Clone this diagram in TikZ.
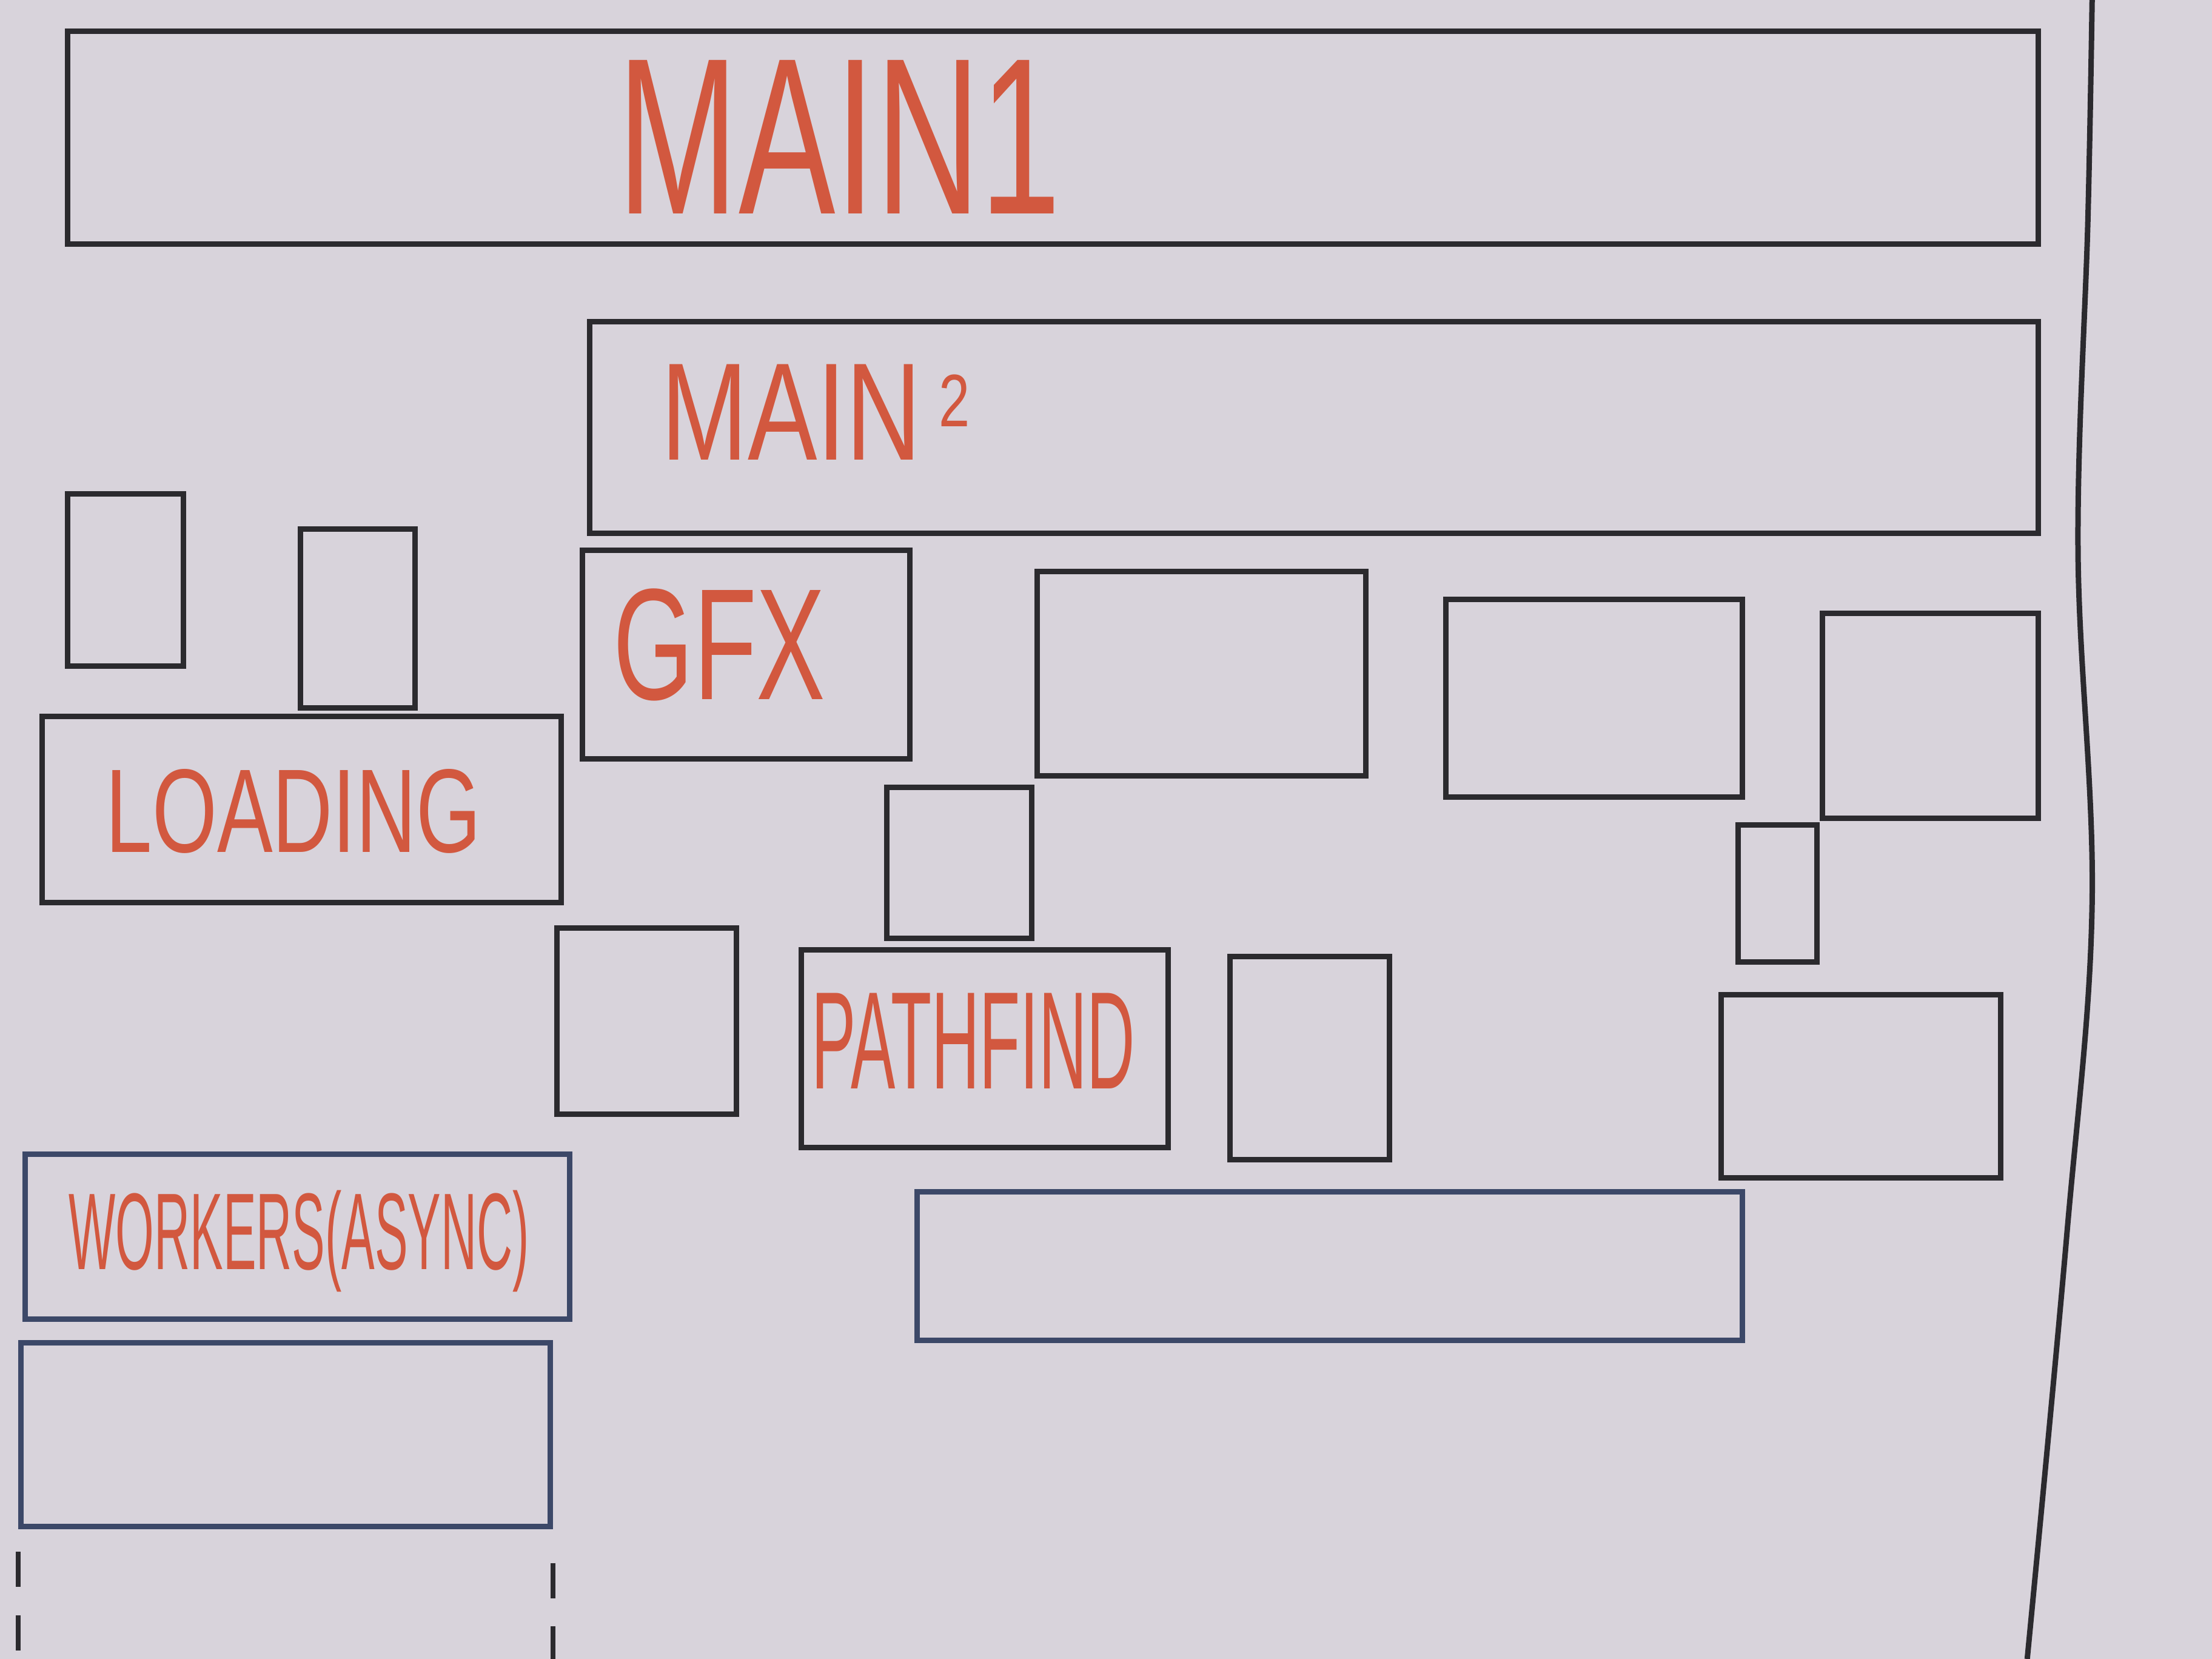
\documentclass[tikz,border=0pt]{standalone}
\usepackage{fontspec}
\newfontfamily\boardfont{Liberation Sans}
\newcommand{\squeeze}[2]{\scalebox{#1}[1]{#2}}
\begin{document}
\begin{tikzpicture}[font=\boardfont,
  boardbox/.style={draw=markerblack,line width=1.1pt,inner sep=0pt},
  workbox/.style={draw=markerblue,line width=1.1pt,inner sep=0pt},
  boardlabel/.style={text=markerred,inner sep=0pt}]
\definecolor{boardgrey}{HTML}{D8D3DB}
\definecolor{markerblack}{HTML}{2B2A2E}
\definecolor{markerblue}{HTML}{3C4868}
\definecolor{markerred}{HTML}{D2583F}
\fill[boardgrey] (0,0) rectangle (15.68,11.76);
\useasboundingbox (0,0) rectangle (15.68,11.76);
% main threads
\node[boardbox,minimum width=13.97cm,minimum height=1.51cm] (main1) at (7.465,10.785) {};
\node[boardbox,minimum width=10.27cm,minimum height=1.50cm] (main2) at (9.315,8.73) {};
\node[boardlabel,font=\boardfont\fontsize{45}{45}\selectfont] (main1label) at (5.95,10.79) {\squeeze{0.65}{MAIN1}};
\node[boardlabel,font=\boardfont\fontsize{28}{28}\selectfont] (main2label) at (5.78,8.84) {\squeeze{0.75}{MAIN\,\raisebox{0.45ex}{\fontsize{15}{15}\selectfont 2}}};
% subsystem boxes
\node[boardbox,minimum width=0.82cm,minimum height=1.22cm] (boxa) at (0.89,7.65) {};
\node[boardbox,minimum width=0.81cm,minimum height=1.27cm] (boxb) at (2.535,7.375) {};
\node[boardbox,minimum width=2.32cm,minimum height=1.48cm] (gfx) at (5.29,7.12) {};
\node[boardbox,minimum width=2.33cm,minimum height=1.45cm] (boxc) at (8.515,6.985) {};
\node[boardbox,minimum width=2.10cm,minimum height=1.40cm] (boxd) at (11.30,6.81) {};
\node[boardbox,minimum width=1.53cm,minimum height=1.45cm] (boxe) at (13.685,6.685) {};
\node[boardbox,minimum width=3.68cm,minimum height=1.32cm] (loading) at (2.14,6.02) {};
\node[boardbox,minimum width=1.03cm,minimum height=1.07cm] (boxf) at (6.80,5.645) {};
\node[boardbox,minimum width=0.56cm,minimum height=0.97cm] (boxg) at (12.60,5.425) {};
\node[boardbox,minimum width=1.27cm,minimum height=1.32cm] (boxh) at (4.585,4.52) {};
\node[boardbox,minimum width=2.60cm,minimum height=1.40cm] (pathfind) at (6.98,4.325) {};
\node[boardbox,minimum width=1.13cm,minimum height=1.44cm] (boxi) at (9.285,4.26) {};
\node[boardbox,minimum width=1.98cm,minimum height=1.30cm] (boxj) at (13.19,4.06) {};
\node[boardlabel,font=\boardfont\fontsize{32}{32}\selectfont] (gfxlabel) at (5.10,7.19) {\squeeze{0.65}{GFX}};
\node[boardlabel,font=\boardfont\fontsize{24}{24}\selectfont] (loadinglabel) at (2.08,6.01) {\squeeze{0.7}{LOADING}};
\node[boardlabel,font=\boardfont\fontsize{28}{28}\selectfont] (pathfindlabel) at (6.90,4.38) {\squeeze{0.48}{PATHFIND}};
% workers
\node[workbox,minimum width=3.86cm,minimum height=1.17cm] (workers) at (2.11,2.995) {};
\node[workbox,minimum width=5.85cm,minimum height=1.05cm] (workerpool) at (9.425,2.785) {};
\node[workbox,minimum width=3.75cm,minimum height=1.30cm] (workerstack) at (2.025,1.59) {};
\node[boardlabel,font=\boardfont\fontsize{22}{22}\selectfont] (workerslabel) at (2.12,2.96) {\squeeze{0.455}{WORKERS(ASYNC)}};
\coordinate (stackleftend) at (workerstack.south west |- 0,0);
\coordinate (stackrightend) at (workerstack.south east |- 0,0);
\draw[markerblack,line width=1pt,dash pattern=on 2.5mm off 2mm] ([yshift=-1.6mm]workerstack.south west) -- (stackleftend);
\draw[markerblack,line width=1pt,dash pattern=on 2.5mm off 2mm] ([yshift=-2.4mm]workerstack.south east) -- (stackrightend);
% edge of the board
\draw[markerblack,line width=1.1pt] plot[smooth,tension=0.6] coordinates {(14.83,11.76) (14.80,10.2) (14.73,7.86) (14.83,5.36) (14.65,3.0) (14.37,0)};
\end{tikzpicture}
\end{document}
